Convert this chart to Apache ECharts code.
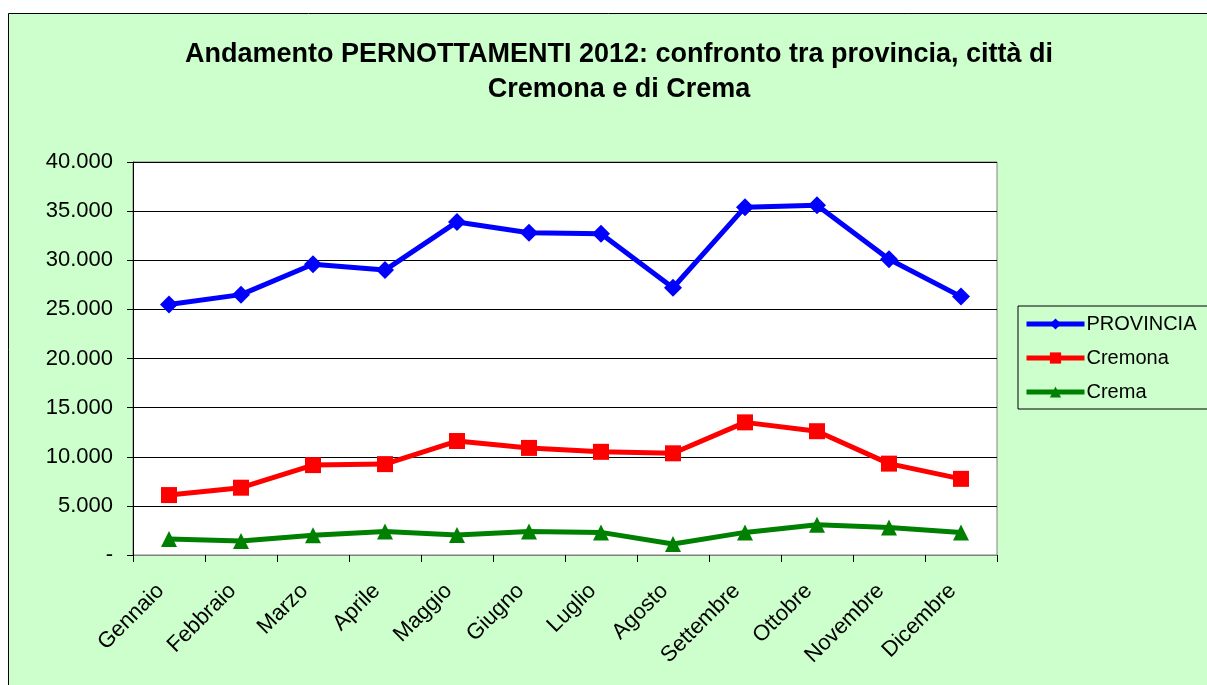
<!DOCTYPE html>
<html><head><meta charset="utf-8">
<script src="https://cdn.jsdelivr.net/npm/echarts@6/dist/echarts.min.js"></script>
<style>html,body{margin:0;padding:0;background:#fff}#c{width:1207px;height:685px}</style>
</head><body><div id="c"></div>
<script>
const categories = ['Gennaio','Febbraio','Marzo','Aprile','Maggio','Giugno','Luglio','Agosto','Settembre','Ottobre','Novembre','Dicembre'];
const provincia = [25500, 26500, 29600, 29000, 33900, 32800, 32700, 27200, 35400, 35600, 30100, 26300];
const cremona = [6100, 6850, 9150, 9250, 11600, 10900, 10500, 10350, 13500, 12600, 9300, 7750];
const crema = [1630, 1420, 2000, 2400, 2030, 2400, 2300, 1120, 2300, 3080, 2800, 2300];
const titleText = 'Andamento PERNOTTAMENTI 2012: confronto tra provincia, città di\nCremona e di Crema';
const FONT = 'Liberation Sans, Arial, sans-serif';

function fmt(v){
  if (v === 0) return '-';
  return String(v).replace(/\B(?=(\d{3})+(?!\d))/g, '.');
}

const chart = echarts.init(document.getElementById('c'), null, {renderer:'canvas'});
chart.setOption({
  backgroundColor: '#ffffff',
  animation: false,
  graphic: [{
    type: 'rect', z: -10, silent: true,
    shape: {x: 8.5, y: 13.5, width: 1250, height: 700},
    style: {fill: '#CCFFCC', stroke: '#000', lineWidth: 1}
  }],
  title: {
    text: titleText, left: 614, top: 32, textAlign: 'center',
    textStyle: {fontFamily: FONT, fontSize: 27, fontWeight: 'bold', color: '#000', lineHeight: 35}
  },
  legend: {
    orient: 'vertical', left: 1018, top: 306,
    padding: [8, 40, 7, 6], itemGap: 14, itemWidth: 58, itemHeight: 14,
    borderColor: '#000', borderWidth: 1, backgroundColor: '#CCFFCC',
    lineStyle: {width: 5},
    textStyle: {fontFamily: FONT, fontSize: 20, lineHeight: 20, color: '#000', padding: [0,0,0,-3]},
    data: ['PROVINCIA','Cremona','Crema']
  },
  grid: {
    left: 133, top: 162, width: 864, height: 393, show: true,
    backgroundColor: '#fff', borderColor: '#808080', borderWidth: 1
  },
  xAxis: {
    type: 'category', data: categories, boundaryGap: true,
    axisLine: {lineStyle: {color: '#808080', width: 1}},
    axisTick: {show: true, interval: 0, length: 7, lineStyle: {color: '#000'}},
    axisLabel: {rotate: 45, interval: 0, margin: 24, padding: [0, 12, 0, 0], fontFamily: FONT, fontSize: 22, color: '#000'}
  },
  yAxis: {
    type: 'value', min: 0, max: 40000, interval: 5000,
    axisLine: {show: true, lineStyle: {color: '#000', width: 1}},
    axisTick: {show: true, length: 6, lineStyle: {color: '#000'}},
    axisLabel: {margin: 20, fontFamily: FONT, fontSize: 22, color: '#000', formatter: fmt},
    splitLine: {lineStyle: {color: '#000', width: 1}}
  },
  series: [
    {name: 'PROVINCIA', type: 'line', data: provincia, symbol: 'diamond', symbolSize: 18,
     lineStyle: {color: '#0000FF', width: 5}, itemStyle: {color: '#0000FF'}},
    {name: 'Cremona', type: 'line', data: cremona, symbol: 'rect', symbolSize: 16,
     lineStyle: {color: '#FF0000', width: 5}, itemStyle: {color: '#FF0000'}},
    {name: 'Crema', type: 'line', data: crema, symbol: 'triangle', symbolSize: 16,
     lineStyle: {color: '#008000', width: 5}, itemStyle: {color: '#008000'}}
  ]
});
</script></body></html>
